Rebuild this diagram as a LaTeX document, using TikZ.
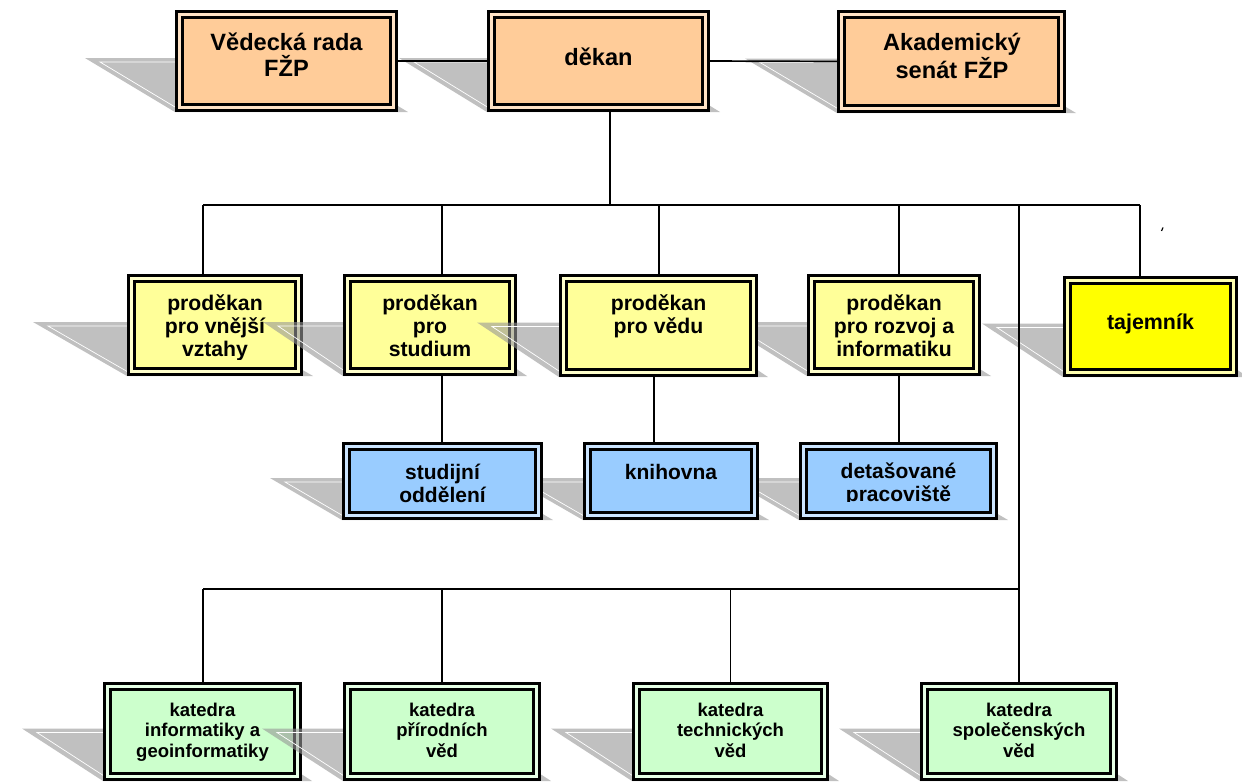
\documentclass[tikz,border=0pt]{standalone}
\usepackage{fontspec}
\setmainfont{Liberation Sans}
\definecolor{orangeF}{HTML}{FFCC99}
\definecolor{orangeG}{HTML}{FFE3C6}
\definecolor{yellowF}{HTML}{FFFF99}
\definecolor{yellowG}{HTML}{FFFFCC}
\definecolor{tajF}{HTML}{FFFF00}
\definecolor{tajG}{HTML}{FFFFB0}
\definecolor{blueF}{HTML}{99CCFF}
\definecolor{blueG}{HTML}{CCE5FF}
\definecolor{greenF}{HTML}{CCFFCC}
\definecolor{greenG}{HTML}{E6FFE6}
\definecolor{shadowC}{HTML}{969696}
\newcommand\lstrut{\rule{0pt}{1em}}
% shadow: L T R B dx
\newcommand\shd[5]{%
  \pgfmathsetmacro\shYt{(#2+#4)/2-3}%
  \pgfmathsetmacro\shXw{#1-#5+15}%
  \pgfmathsetmacro\shYw{\shYt+4}%
  \pgfmathsetmacro\shXe{\shXw+#5*(#4-3-\shYw)/(#4-\shYt)}%
  \fill[shadowfill] ({#1-#5},\shYt) -- ({#3+10-#5},\shYt) -- ({#3+10},#4) -- (#1,#4) -- cycle;
  \draw[white, line width=0.35pt] ({#3-#5},\shYw) -- (\shXw,\shYw) -- (\shXe,{#4-3});
}
% box: name style L T R B
\newcommand\bx[6]{%
  \node[#2, minimum width={(#5-#3-9)*0.5pt}, minimum height={(#6-#4-9)*0.5pt}] (#1) at ({(#3+#5)/2},{(#4+#6)/2}) {};
}
\begin{document}
\begin{tikzpicture}[x=0.5pt,y=-0.5pt,
  shadowfill/.style={fill=shadowC, fill opacity=0.6},
  boxbase/.style={rectangle, inner sep=0pt, outer sep=0pt, draw=black, line width=1.6pt, double distance=1.3pt},
  orangebox/.style={boxbase, fill=orangeF, double=orangeG},
  yellowbox/.style={boxbase, fill=yellowF, double=yellowG},
  tajbox/.style={boxbase, fill=tajF, double=tajG},
  bluebox/.style={boxbase, fill=blueF, double=blueG},
  greenbox/.style={boxbase, fill=greenF, double=greenG},
  txtbase/.style={inner sep=0pt, outer sep=0pt, anchor=north, align=center},
  txtTop/.style={txtbase, font=\fontsize{11.8}{13}\selectfont\bfseries},
  txtMid/.style={txtbase, font=\fontsize{10.6}{11.5}\selectfont\bfseries},
  txtTaj/.style={txtbase, font=\fontsize{10.7}{11.5}\selectfont\bfseries},
  txtBlue/.style={txtbase, font=\fontsize{10.5}{11.5}\selectfont\bfseries},
  txtBot/.style={txtbase, font=\fontsize{9.25}{10.35}\selectfont\bfseries},
  conn/.style={draw=black, line width=0.85pt},
  ss/.style={shorten <=2.25pt},
  se/.style={shorten >=2.25pt},
  sa/.style={shorten <=2.25pt, shorten >=2.25pt}
]
\fill[white] (0,0) rectangle (1242,782);
\useasboundingbox (0,0) rectangle (1242,782);

% ---------- top row ----------
\shd{175}{10}{398}{112}{90}
\bx{A}{orangebox}{175}{10}{398}{112}
\node[txtTop] (tA) at (286.5,26.4) {\lstrut Vědecká rada\\FŽP};
\shd{487}{10}{710}{112}{88}
\bx{B}{orangebox}{487}{10}{710}{112}
\node[txtTop] (tB) at (598.5,41.4) {\lstrut děkan};
\shd{837}{10}{1066}{113}{92}
\bx{C}{orangebox}{837}{10}{1066}{113}
\node[txtTop] (tC) at (952,26.4) {\lstrut Akademický\\senát FŽP};

% ---------- middle row ----------
\shd{127}{274}{303}{376}{94}
\bx{D1}{yellowbox}{127}{274}{303}{376}
\begin{scope}
\clip (127,274) rectangle (303,359);
\node[txtMid] (tD1) at (215,288.8) {\lstrut proděkan\\pro vnější\\vztahy};
\end{scope}
\shd{343}{274}{517}{376}{80}
\bx{D2}{yellowbox}{343}{274}{517}{376}
\begin{scope}
\clip (343,274) rectangle (517,362);
\node[txtMid] (tD2) at (430,288.8) {\lstrut proděkan\\pro\\studium};
\end{scope}
\shd{559}{274}{758}{377}{82}
\shd{807}{274}{981}{376}{87}
\bx{D3}{yellowbox}{559}{274}{758}{377}
\node[txtMid] (tD3) at (658.5,288.8) {\lstrut proděkan\\pro vědu};
\bx{D4}{yellowbox}{807}{274}{981}{376}
\begin{scope}
\clip (807,274) rectangle (981,362);
\node[txtMid] (tD4) at (894,288.8) {\lstrut proděkan\\pro rozvoj a\\informatiku};
\end{scope}
\shd{1063}{276}{1238}{377}{81}
\bx{D5}{tajbox}{1063}{276}{1238}{377}
\node[txtTaj] (tD5) at (1150.5,307.6) {\lstrut tajemník};

% ---------- blue row ----------
\shd{342}{442}{543}{520}{72}
\shd{583}{442}{759}{520}{73}
\shd{799}{442}{998}{520}{72}
\bx{F1}{bluebox}{342}{442}{543}{520}
\node[txtBlue] (tF1) at (442.5,458) {\lstrut studijní\\oddělení};
\bx{F2}{bluebox}{583}{442}{759}{520}
\node[txtBlue] (tF2) at (671,458) {\lstrut knihovna};
\bx{F3}{bluebox}{799}{442}{998}{520}
\begin{scope}
\clip (799,442) rectangle (998,501);
\node[txtBlue] (tF3) at (898.5,457) {\lstrut detašované\\pracoviště};
\end{scope}

% ---------- bottom row ----------
\shd{103}{682}{302}{781}{81}
\bx{E1}{greenbox}{103}{682}{302}{781}
\node[txtBot] (tE1) at (202.5,697.5) {\lstrut katedra\\informatiky a\\geoinformatiky};
\shd{343}{682}{541}{781}{81}
\bx{E2}{greenbox}{343}{682}{541}{781}
\node[txtBot] (tE2) at (442,697.5) {\lstrut katedra\\přírodních\\věd};
\shd{632}{682}{829}{781}{81}
\bx{E3}{greenbox}{632}{682}{829}{781}
\node[txtBot] (tE3) at (730.5,697.5) {\lstrut katedra\\technických\\věd};
\shd{920}{682}{1118}{781}{81}
\bx{E4}{greenbox}{920}{682}{1118}{781}
\node[txtBot] (tE4) at (1019,697.5) {\lstrut katedra\\společenských\\věd};

% ---------- connectors ----------
\coordinate (busL) at (203,205);
\coordinate (busR) at (1140,205);
\coordinate (bdek) at (610,205);
\coordinate (k2) at (442,205);
\coordinate (k3) at (659,205);
\coordinate (k4) at (899,205);
\coordinate (kv) at (1019,205);
\coordinate (m3) at (654,205);
\coordinate (lowL) at (203,589);
\coordinate (lowR) at (1019,589);

\draw[conn,sa] (A.east) -- (B.west);
\draw[conn,sa] (B.east) -- (C.west);
\draw[conn,ss] (bdek |- B.south) -- (bdek);
\draw[conn] (busL) -- (busR);
\draw[conn,se] (busL) -- (busL |- D1.north);
\draw[conn,se] (k2) -- (k2 |- D2.north);
\draw[conn,se] (k3) -- (k3 |- D3.north);
\draw[conn,se] (k4) -- (k4 |- D4.north);
\draw[conn,se] (busR) -- (busR |- D5.north);
\draw[conn] (kv) -- (lowR);
\draw[conn,sa] (k2 |- D2.south) -- (k2 |- F1.north);
\draw[conn,sa] (m3 |- D3.south) -- (m3 |- F2.north);
\draw[conn,sa] (k4 |- D4.south) -- (k4 |- F3.north);
\draw[conn] (lowL) -- (lowR);
\draw[conn,se] (lowL) -- (lowL |- E1.north);
\draw[conn,se] (E2.north |- lowL) -- (E2.north);
\draw[conn,se] (E3.north |- lowL) -- (E3.north);
\draw[conn,se] (lowR) -- (E4.north);

% stray tick mark
\draw[line width=0.6pt] (1161.5,231) -- (1163,227.5);
\end{tikzpicture}
\end{document}
